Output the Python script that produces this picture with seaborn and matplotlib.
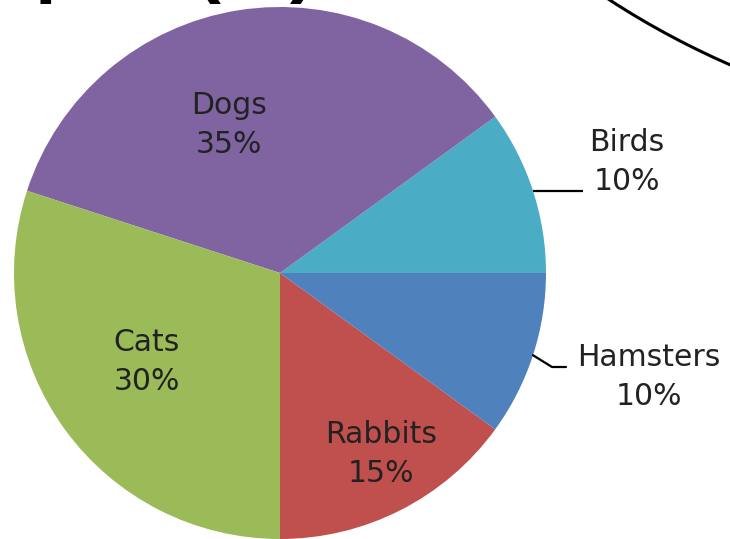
import numpy as np
import matplotlib
matplotlib.use("Agg")
import matplotlib.pyplot as plt
import seaborn as sns
from matplotlib.patches import Ellipse

# data
pets = ["Birds", "Dogs", "Cats", "Rabbits", "Hamsters"]
shares = [10, 35, 30, 15, 10]
colors = ["#4BACC6", "#8064A2", "#9BBB59", "#C0504D", "#4F81BD"]

sns.set_theme(style="white")
plt.rcParams['font.family'] = ['DejaVu Sans']

fig = plt.figure(figsize=(7.3, 5.39), dpi=100)
ax = fig.add_axes([0, 0, 1, 1])

# pie in pixel coords (y pointing down)
cx, cy, r = 280, 273, 266
ax.pie(shares, colors=colors, startangle=0, counterclock=False,
       center=(cx, cy), radius=r, wedgeprops=dict(linewidth=0))
ax.set_xlim(0, 730)
ax.set_ylim(539, 0)
ax.set_aspect('auto')
ax.axis('off')

txt_color = "#222222"
fs = 21.5
# label positions (pixels) for each slice
label_pos = [(627, 162), (229, 125), (147, 362), (381, 454), (649, 377)]
for name, val, (x, y) in zip(pets, shares, label_pos):
    ax.text(x, y, f"{name}\n{val}%", ha="center", va="center",
            fontsize=fs, color=txt_color, linespacing=1.42)

# leader lines for the two small outside labels
angles = np.cumsum([0] + shares)[:-1] * 3.6 + np.array(shares) * 1.8
th = np.deg2rad(angles[0])
x0, y0 = cx + r * np.cos(th), cy - r * np.sin(th)
ax.plot([x0, 583], [y0, y0], color="black", lw=1.6, solid_capstyle="butt")
th = np.deg2rad(angles[4])
x0, y0 = cx + r * np.cos(th), cy - r * np.sin(th)
ax.plot([x0, 552, 566], [y0, 367, 367], color="black", lw=1.6)

# bits cropped off the top of the page
fig.text(-99 / 730, 1 + 12 / 539, "Graphs (m)", fontsize=56, fontweight="bold",
         family="Liberation Sans", ha="left", va="baseline", color="black")
ax.add_patch(Ellipse((1100, -531), 1600, 1344, fill=False, edgecolor="black",
                     lw=2.2))

plt.savefig("out.png", dpi=100)
